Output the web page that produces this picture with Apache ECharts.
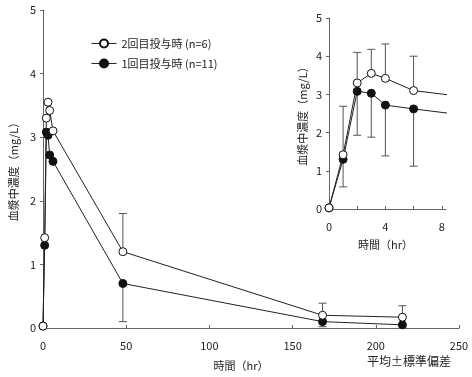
<!DOCTYPE html>
<html>
<head>
<meta charset="utf-8">
<script src="https://cdn.jsdelivr.net/npm/echarts@6/dist/echarts.min.js"></script>
<style>
  html, body { margin: 0; padding: 0; background: #fff; }
  #chart { width: 472px; height: 377px; }
</style>
</head>
<body>
<div id="chart"></div>
<script>
// 採血時間 (hr)
const hours = [0, 1, 2, 3, 4, 6, 48, 168, 216];
// 2回目投与時 (n=6): 平均, 標準偏差
const dose2Mean = [0.03, 1.42, 3.3, 3.55, 3.42, 3.1, 1.2, 0.2, 0.17];
const dose2SD = [0, 1.27, 0.8, 0.63, 0.9, 0.9, 0.6, 0.19, 0.18];
// 1回目投与時 (n=11)
const dose1Mean = [0.03, 1.3, 3.08, 3.03, 2.72, 2.62, 0.7, 0.1, 0.05];
const dose1SD = [0, 0.72, 1.15, 1.15, 1.33, 1.5, 0.6, 0.08, 0.05];

const name2 = "2回目投与時 (n=6)";
const name1 = "1回目投与時 (n=11)";
const FONT = "'Noto Sans CJK JP', 'Noto Sans', sans-serif";

const chart = echarts.init(document.getElementById("chart"));

const pts = (mean) => hours.map((h, i) => [h, mean[i]]);
// [x, mean, end]  end = mean ± SD
const bars = (mean, sd, sign, keep) =>
    hours.map((h, i) => [h, mean[i], mean[i] + sign * sd[i]])
         .filter((d, i) => keep(hours[i]) && sd[i] > 0);

function renderBar(params, api) {
    const a = api.coord([api.value(0), api.value(1)]);
    const b = api.coord([api.value(0), api.value(2)]);
    const st = { stroke: "#555", lineWidth: 1 };
    return {
        type: "group",
        children: [
            { type: "line", shape: { x1: a[0], y1: a[1], x2: b[0], y2: b[1] }, style: st },
            { type: "line", shape: { x1: b[0] - 4, y1: b[1], x2: b[0] + 4, y2: b[1] }, style: st },
        ],
    };
}

const axisCommon = {
    axisLine: { show: true, lineStyle: { color: "#666", width: 1 } },
    axisLabel: { color: "#222", fontSize: 11, fontFamily: FONT },
    splitLine: { show: false },
};

const openStyle = { color: "#fff", borderColor: "#111", borderWidth: 1 };
const fillStyle = { color: "#111", borderColor: "#111", borderWidth: 1 };
const lineStyle = { color: "#222", width: 1 };

function lineSeries(name, data, x, y, open) {
    return {
        name: name,
        type: "line",
        xAxisIndex: x,
        yAxisIndex: y,
        data: data,
        symbol: "circle",
        symbolSize: 8,
        itemStyle: open ? openStyle : fillStyle,
        lineStyle: lineStyle,
        z: open ? 4 : 3,
        clip: true,
        animation: false,
    };
}

function barSeries(data, x, y) {
    return {
        type: "custom",
        xAxisIndex: x,
        yAxisIndex: y,
        renderItem: renderBar,
        data: data,
        clip: true,
        z: 1,
        silent: true,
        animation: false,
    };
}

const option = {
    backgroundColor: "#fff",
    textStyle: { fontFamily: FONT },
    legend: {
        orient: "vertical",
        left: 86,
        top: 33,
        itemWidth: 25,
        itemHeight: 10,
        itemGap: 9,
        lineStyle: { width: 1 },
        textStyle: { fontSize: 11, color: "#222", fontFamily: FONT },
        data: [name2, name1],
    },
    grid: [
        { left: 41, right: 13, top: 10, bottom: 49 },
        { left: 329, right: 26, top: 18, bottom: 168 },
    ],
    xAxis: [
        Object.assign({}, axisCommon, {
            type: "value",
            gridIndex: 0,
            min: 0,
            max: 250,
            interval: 50,
            axisTick: { inside: true, length: 3, lineStyle: { color: "#666" } },
            axisLabel: Object.assign({}, axisCommon.axisLabel, { margin: 12 }),
            name: "時間（hr）",
            nameLocation: "middle",
            nameGap: 32,
            nameTextStyle: { fontSize: 11, color: "#222", fontFamily: FONT, padding: [0, 20, 0, 0] },
        }),
        Object.assign({}, axisCommon, {
            type: "value",
            gridIndex: 1,
            min: 0,
            max: 8.3,
            axisTick: { inside: true, length: 3, customValues: [0, 2, 4, 6, 8], lineStyle: { color: "#666" } },
            axisLabel: Object.assign({}, axisCommon.axisLabel, { margin: 12, customValues: [0, 4, 8] }),
            name: "時間（hr）",
            nameLocation: "middle",
            nameGap: 30,
            nameTextStyle: { fontSize: 11, color: "#222", fontFamily: FONT, padding: [0, 4, 0, 0] },
        }),
    ],
    yAxis: [
        Object.assign({}, axisCommon, {
            type: "value",
            gridIndex: 0,
            min: 0,
            max: 5,
            interval: 1,
            axisTick: { length: 3, lineStyle: { color: "#666" } },
            axisLabel: Object.assign({}, axisCommon.axisLabel, { margin: 7 }),
            name: "血漿中濃度（mg/L）",
            nameLocation: "middle",
            nameRotate: 90,
            nameGap: 22,
            nameTextStyle: { fontSize: 11, color: "#222", fontFamily: FONT },
        }),
        Object.assign({}, axisCommon, {
            type: "value",
            gridIndex: 1,
            min: 0,
            max: 5,
            interval: 1,
            axisTick: { length: 3, lineStyle: { color: "#666" } },
            axisLabel: Object.assign({}, axisCommon.axisLabel, { margin: 7 }),
            name: "血漿中濃度（mg/L）",
            nameLocation: "middle",
            nameRotate: 90,
            nameGap: 21,
            nameTextStyle: { fontSize: 11, color: "#222", fontFamily: FONT },
        }),
    ],
    graphic: [
        {
            type: "text",
            left: 367,
            top: 355,
            style: { text: "平均±標準偏差", fontSize: 12, fill: "#222", fontFamily: FONT },
        },
    ],
    series: [
        // 本図: 48 hr 以降のみ誤差棒
        barSeries(bars(dose2Mean, dose2SD, 1, (h) => h > 8), 0, 0),
        barSeries(bars(dose1Mean, dose1SD, -1, (h) => h > 8), 0, 0),
        lineSeries(name1, pts(dose1Mean), 0, 0, false),
        lineSeries(name2, pts(dose2Mean), 0, 0, true),
        // 拡大図 (0-8 hr)
        barSeries(bars(dose2Mean, dose2SD, 1, (h) => h <= 8), 1, 1),
        barSeries(bars(dose1Mean, dose1SD, -1, (h) => h <= 8), 1, 1),
        lineSeries(name1, pts(dose1Mean), 1, 1, false),
        lineSeries(name2, pts(dose2Mean), 1, 1, true),
    ],
};

chart.setOption(option);
</script>
</body>
</html>
